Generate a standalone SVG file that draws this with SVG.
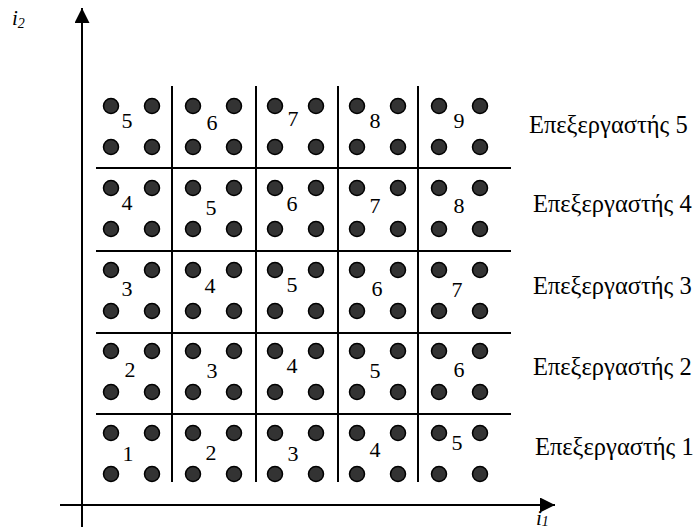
<svg xmlns="http://www.w3.org/2000/svg" width="697" height="529" viewBox="0 0 697 529">
  <style>
    .ax { stroke: #000; stroke-width: 2; fill: none; }
    .grid { stroke: #000; stroke-width: 2; }
    .pt { fill: #333; stroke: #000; stroke-width: 1.5; }
    .num { font-family: "Liberation Serif", "Times New Roman", serif; font-size: 22px; fill: #000; text-anchor: middle; }
    .lbl { font-family: "Liberation Serif", "Times New Roman", serif; font-size: 24.5px; fill: #000; }
    .var { font-family: "Liberation Serif", "Times New Roman", serif; font-style: italic; font-size: 21px; fill: #000; }
    .sub { font-size: 14px; }
  </style>
  <defs>
    <marker id="arrow" viewBox="0 0 10 10" refX="10" refY="5" markerWidth="7.5" markerHeight="7.5" orient="auto" markerUnits="strokeWidth">
      <path d="M0,0 L10,5 L0,10 Z" fill="#000"/>
    </marker>
    <g id="cell">
      <circle class="pt" cx="0" cy="0" r="7.5"/>
      <circle class="pt" cx="41" cy="0" r="7.5"/>
      <circle class="pt" cx="0" cy="41" r="7.5"/>
      <circle class="pt" cx="41" cy="41" r="7.5"/>
    </g>
  </defs>

  <!-- axes -->
  <g id="axes">
    <line class="ax" x1="82" y1="527" x2="82" y2="8" marker-end="url(#arrow)"/>
    <line class="ax" x1="60" y1="505" x2="555" y2="505" marker-end="url(#arrow)"/>
    <text class="var" x="12" y="25">i<tspan class="sub" dy="3">2</tspan></text>
    <text class="var" x="536" y="525">i<tspan class="sub" dy="1">1</tspan></text>
  </g>

  <!-- partition lines -->
  <g id="connectors">
    <line class="grid" x1="172" y1="86" x2="172" y2="482"/>
    <line class="grid" x1="256" y1="86" x2="256" y2="482"/>
    <line class="grid" x1="338" y1="86" x2="338" y2="482"/>
    <line class="grid" x1="418" y1="86" x2="418" y2="482"/>
    <line class="grid" x1="96" y1="168" x2="511" y2="168"/>
    <line class="grid" x1="96" y1="251" x2="511" y2="251"/>
    <line class="grid" x1="96" y1="333" x2="511" y2="333"/>
    <line class="grid" x1="96" y1="414" x2="511" y2="414"/>
  </g>

  <!-- row 5 -->
  <g id="row5">
    <g id="r5c1"><use href="#cell" x="111" y="106"/><text class="num" x="127" y="128">5</text></g>
    <g id="r5c2"><use href="#cell" x="193" y="106"/><text class="num" x="212" y="130">6</text></g>
    <g id="r5c3"><use href="#cell" x="275" y="106"/><text class="num" x="293" y="126">7</text></g>
    <g id="r5c4"><use href="#cell" x="357" y="106"/><text class="num" x="375" y="128">8</text></g>
    <g id="r5c5"><use href="#cell" x="439" y="106"/><text class="num" x="459" y="128">9</text></g>
    <text class="lbl" x="529" y="133">Επεξεργαστής 5</text>
  </g>
  <!-- row 4 -->
  <g id="row4">
    <g id="r4c1"><use href="#cell" x="111" y="188"/><text class="num" x="127" y="210">4</text></g>
    <g id="r4c2"><use href="#cell" x="193" y="188"/><text class="num" x="211" y="215">5</text></g>
    <g id="r4c3"><use href="#cell" x="275" y="188"/><text class="num" x="292" y="211">6</text></g>
    <g id="r4c4"><use href="#cell" x="357" y="188"/><text class="num" x="375" y="213">7</text></g>
    <g id="r4c5"><use href="#cell" x="439" y="188"/><text class="num" x="459" y="213">8</text></g>
    <text class="lbl" x="533" y="212">Επεξεργαστής 4</text>
  </g>
  <!-- row 3 -->
  <g id="row3">
    <g id="r3c1"><use href="#cell" x="111" y="270"/><text class="num" x="127" y="296">3</text></g>
    <g id="r3c2"><use href="#cell" x="193" y="270"/><text class="num" x="210" y="293">4</text></g>
    <g id="r3c3"><use href="#cell" x="275" y="270"/><text class="num" x="292" y="292">5</text></g>
    <g id="r3c4"><use href="#cell" x="357" y="270"/><text class="num" x="377" y="296">6</text></g>
    <g id="r3c5"><use href="#cell" x="439" y="270"/><text class="num" x="457" y="297">7</text></g>
    <text class="lbl" x="533" y="294">Επεξεργαστής 3</text>
  </g>
  <!-- row 2 -->
  <g id="row2">
    <g id="r2c1"><use href="#cell" x="111" y="351"/><text class="num" x="130" y="377">2</text></g>
    <g id="r2c2"><use href="#cell" x="193" y="351"/><text class="num" x="212" y="378">3</text></g>
    <g id="r2c3"><use href="#cell" x="275" y="351"/><text class="num" x="292" y="373">4</text></g>
    <g id="r2c4"><use href="#cell" x="357" y="351"/><text class="num" x="375" y="378">5</text></g>
    <g id="r2c5"><use href="#cell" x="439" y="351"/><text class="num" x="459" y="377">6</text></g>
    <text class="lbl" x="533" y="375">Επεξεργαστής 2</text>
  </g>
  <!-- row 1 -->
  <g id="row1">
    <g id="r1c1"><use href="#cell" x="111" y="433"/><text class="num" x="128" y="461">1</text></g>
    <g id="r1c2"><use href="#cell" x="193" y="433"/><text class="num" x="211" y="460">2</text></g>
    <g id="r1c3"><use href="#cell" x="275" y="433"/><text class="num" x="293" y="461">3</text></g>
    <g id="r1c4"><use href="#cell" x="357" y="433"/><text class="num" x="375" y="457">4</text></g>
    <g id="r1c5"><use href="#cell" x="439" y="433"/><text class="num" x="457" y="450">5</text></g>
    <text class="lbl" x="535" y="455">Επεξεργαστής 1</text>
  </g>
</svg>
